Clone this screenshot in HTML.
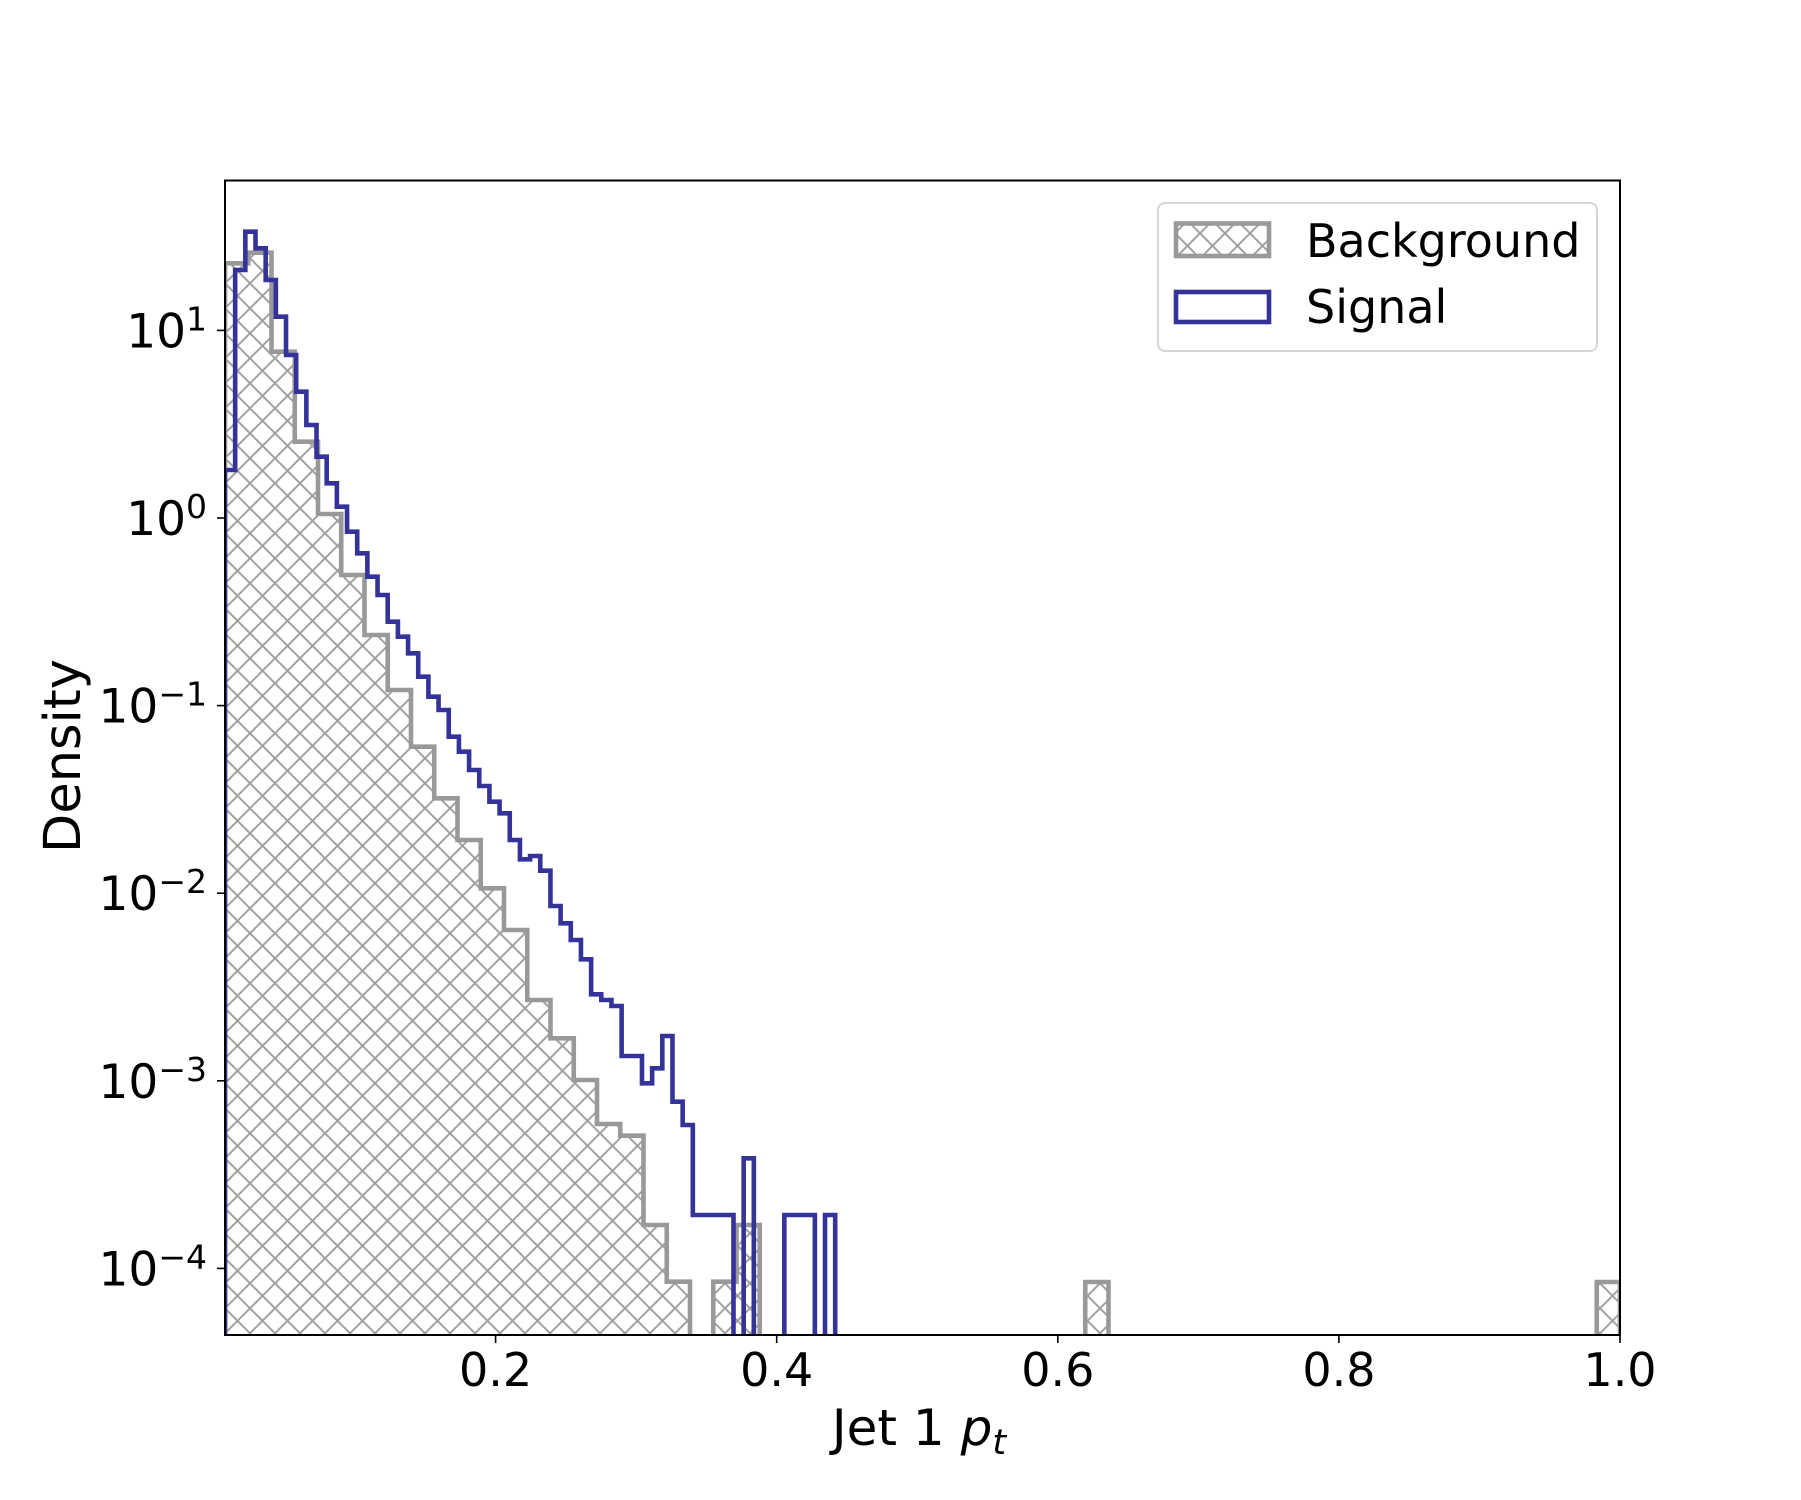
<!DOCTYPE html>
<html><head><meta charset="utf-8"><style>html,body{margin:0;padding:0;background:#fff}svg{display:block}</style></head>
<body>
<svg width="1801" height="1500" viewBox="0 0 1801 1500" xmlns="http://www.w3.org/2000/svg" font-family="DejaVu Sans, Liberation Sans, sans-serif">
<defs>
<pattern id="h" patternUnits="userSpaceOnUse" x="12.5" y="-4.2" width="25" height="25">
<path d="M0,0 L25,25 M0,25 L25,0 M-2,2 L2,-2 M23,27 L27,23 M-2,23 L2,27 M23,-2 L27,2" stroke="#9e9e9e" stroke-width="1.9" fill="none"/>
</pattern>
<clipPath id="c"><rect x="225" y="180.5" width="1395" height="1154.5"/></clipPath>
</defs>
<rect width="1801" height="1500" fill="#fff"/>
<g clip-path="url(#c)">
<path d="M225,1345 V263.3 H248.25 V252.7 H271.5 V351.7 H294.75 V441.7 H318 V514 H341.25 V575 H364.5 V635 H387.75 V690 H411 V746.7 H434.25 V798.3 H457.5 V840 H480.75 V888.3 H504 V930 H527.25 V1000 H550.5 V1038.3 H573.75 V1080 H597 V1124 H620.25 V1135.7 H643.5 V1225 H666.75 V1281.7 H690 V1345 H713.25 V1281.7 H736.5 V1225 H759.75 V1345 H1085.25 V1282 H1108.5 V1345 H1596.75 V1282 H1620 V1345 Z" fill="url(#h)" stroke="#999999" stroke-width="4.6" stroke-linejoin="miter"/>
<path d="M225,1345 V470 H235.17 V270 H245.34 V231.7 H255.51 V248.3 H265.68 V280 H275.85 V316.7 H286.02 V355 H296.19 V391.7 H306.36 V425 H316.53 V456.7 H326.7 V483.3 H336.87 V506.7 H347.04 V531.7 H357.21 V553.3 H367.38 V576.7 H377.55 V595 H387.72 V621.7 H397.89 V636.7 H408.06 V653.3 H418.23 V676.7 H428.4 V696.7 H438.57 V710 H448.74 V736.7 H458.91 V751.7 H469.08 V770 H479.25 V786 H489.42 V801.7 H499.59 V813.3 H509.76 V840 H519.93 V859.3 H530.1 V856 H540.27 V870.7 H550.44 V906 H560.61 V923.3 H570.78 V940 H580.95 V959.3 H591.12 V994.3 H601.29 V1000 H611.46 V1006 H621.63 V1056 H641.97 V1083.3 H652.14 V1068.3 H662.31 V1036 H672.48 V1101.7 H682.65 V1125 H692.82 V1215 H733.5 V1345 H743.67 V1158.3 H753.84 V1345 H784.35 V1215 H814.86 V1345 H825.03 V1215 H835.2 V1345" fill="none" stroke="#333399" stroke-width="4.6" stroke-linejoin="miter"/>
</g>
<rect x="225" y="180.5" width="1395" height="1154.5" fill="none" stroke="#000" stroke-width="2"/>
<g stroke="#000" stroke-width="1.6">
<line x1="495.6" y1="1335" x2="495.6" y2="1343"/>
<line x1="776.7" y1="1335" x2="776.7" y2="1343"/>
<line x1="1057.8" y1="1335" x2="1057.8" y2="1343"/>
<line x1="1338.9" y1="1335" x2="1338.9" y2="1343"/>
<line x1="1620" y1="1335" x2="1620" y2="1343"/>
</g>
<g font-size="46" text-anchor="middle" fill="#000">
<text x="495.6" y="1386">0.2</text>
<text x="776.7" y="1386">0.4</text>
<text x="1057.8" y="1386">0.6</text>
<text x="1338.9" y="1386">0.8</text>
<text x="1620" y="1386">1.0</text>
</g>
<g stroke="#000" stroke-width="1.6">
<line x1="217" y1="330.4" x2="225" y2="330.4"/>
<line x1="217" y1="518" x2="225" y2="518"/>
<line x1="217" y1="705.6" x2="225" y2="705.6"/>
<line x1="217" y1="893.2" x2="225" y2="893.2"/>
<line x1="217" y1="1080.8" x2="225" y2="1080.8"/>
<line x1="217" y1="1268.4" x2="225" y2="1268.4"/>
</g>
<g stroke="#000" stroke-width="1.2" id="minor"></g>
<g font-size="47" text-anchor="end" fill="#000">
<text x="207" y="347.4">10<tspan font-size="33" dy="-17">1</tspan></text>
<text x="207" y="535">10<tspan font-size="33" dy="-17">0</tspan></text>
<text x="207" y="722.6">10<tspan font-size="33" dy="-17">−1</tspan></text>
<text x="207" y="910.2">10<tspan font-size="33" dy="-17">−2</tspan></text>
<text x="207" y="1097.8">10<tspan font-size="33" dy="-17">−3</tspan></text>
<text x="207" y="1285.4">10<tspan font-size="33" dy="-17">−4</tspan></text>
</g>
<text x="919" y="1445" font-size="50" text-anchor="middle">Jet 1 <tspan font-style="italic">p</tspan><tspan font-style="italic" font-size="35" dy="9">t</tspan></text>
<text transform="translate(80,756) rotate(-90)" font-size="51" text-anchor="middle">Density</text>
<rect x="1158" y="203" width="439" height="148" rx="7" fill="#fff" fill-opacity="0.8" stroke="#d6d6d6" stroke-width="2"/>
<rect x="1176" y="223.5" width="93" height="32.5" fill="url(#h)" stroke="#999999" stroke-width="4.6"/>
<rect x="1176" y="292" width="93" height="30" fill="none" stroke="#333399" stroke-width="4.6"/>
<text x="1306" y="257" font-size="46">Background</text>
<text x="1306" y="323" font-size="46">Signal</text>
<script>
(function(){var g=document.getElementById('minor');var s='';
for(var k=-5;k<=1;k++){for(var m=2;m<=9;m++){var L=k+Math.log10(m);var y=518-187.6*L;if(y>181&&y<1334){s+='<line x1="220.4" y1="'+y.toFixed(1)+'" x2="225" y2="'+y.toFixed(1)+'"/>';}}}
g.innerHTML=s;})();
</script>
</svg>
</body></html>
